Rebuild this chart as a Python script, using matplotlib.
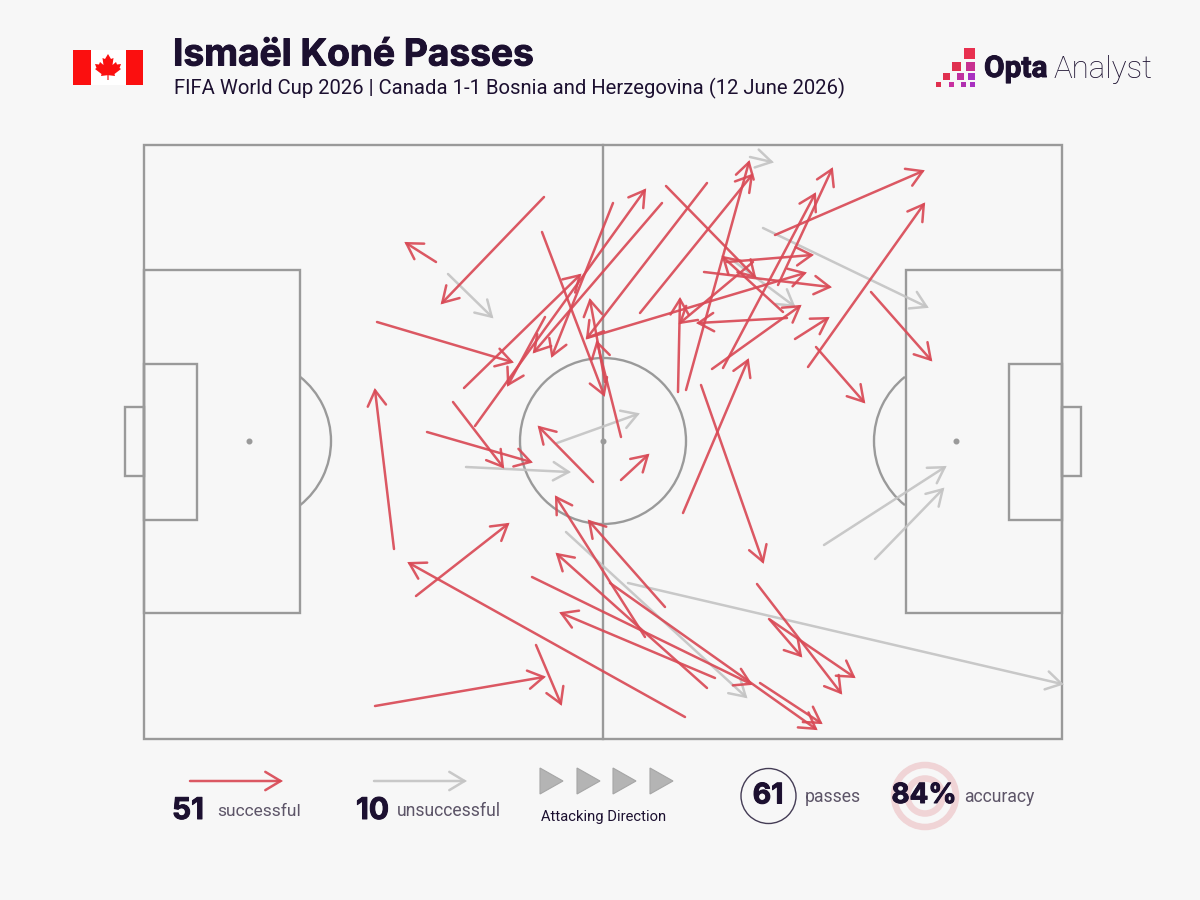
import matplotlib
matplotlib.use('Agg')
import matplotlib.pyplot as plt
import matplotlib.patheffects as pe
import numpy as np
from matplotlib.patches import Arc, Circle, FancyArrowPatch, Polygon, Rectangle

# passes: x start, y start, x end, y end
successful_passes = [
    (544, 197, 442, 303), (436, 262, 406, 243), (377, 322, 512, 362),
    (464, 388, 580, 275), (475, 426, 645, 190), (545, 317, 508, 385),
    (613, 203, 552, 356), (662, 203, 534, 352), (707, 183, 587, 338),
    (542, 232, 604, 395), (605, 382, 590, 300), (621, 437, 597, 342),
    (587, 338, 805, 273), (686, 390, 749, 162), (640, 313, 752, 175),
    (666, 186, 755, 277), (783, 312, 723, 257), (727, 262, 812, 255),
    (704, 272, 830, 287), (787, 318, 698, 323), (712, 369, 800, 306),
    (795, 339, 828, 318), (808, 367, 924, 204), (816, 347, 864, 402),
    (871, 292, 931, 360), (775, 235, 923, 171), (723, 368, 815, 194),
    (778, 285, 832, 169), (678, 392, 680, 299), (753, 262, 680, 323),
    (683, 513, 748, 360), (701, 385, 763, 562), (593, 482, 539, 427),
    (453, 402, 503, 467), (427, 432, 531, 462), (621, 480, 648, 455),
    (394, 549, 375, 390), (416, 596, 508, 524), (685, 717, 409, 563),
    (375, 706, 544, 677), (536, 645, 561, 704), (707, 688, 557, 554),
    (645, 637, 556, 497), (665, 607, 589, 521), (532, 577, 751, 684),
    (760, 683, 821, 723), (610, 583, 816, 729), (715, 678, 561, 613),
    (757, 584, 841, 693), (769, 619, 854, 677), (770, 620, 801, 656),
]
failed_passes = [
    (448, 274, 492, 317), (557, 443, 638, 414), (466, 467, 569, 472),
    (763, 228, 927, 307), (750, 157, 772, 162), (735, 262, 794, 306),
    (566, 532, 746, 697), (628, 583, 1062, 684), (824, 545, 945, 467),
    (875, 559, 943, 489),
]

title = 'Ismaël Koné Passes'
subtitle = 'FIFA World Cup 2026 | Canada 1-1 Bosnia and Herzegovina (12 June 2026)'
n_successful = '51'
n_unsuccessful = '10'
n_passes = '61'
accuracy = '84%'

BG = '#f7f7f7'
DARK = '#1c1030'
MUTED = '#5d5568'
RED = '#d94a56'
GREY = '#c4c4c4'
LINE = '#9a9a9a'
FONT = 'Roboto'
HEAVY = 'Inter'

fig = plt.figure(figsize=(12, 9), dpi=100, facecolor=BG)
ax = fig.add_axes([0, 0, 1, 1])
ax.set_xlim(0, 1200)
ax.set_ylim(900, 0)
ax.axis('off')

# thickens the bold text a little, the original font is heavier than Inter bold
thick = [pe.withStroke(linewidth=0.7, foreground=DARK)]


def box(x0, y0, x1, y1):
    ax.add_patch(Rectangle((x0, y0), x1 - x0, y1 - y0, fill=False, ec=LINE, lw=1.7, zorder=1))


def arrow(p, color, z=3):
    # the open head stops a bit short of its tip, so push the end out by 2 units
    start = np.array(p[:2], dtype=float)
    end = np.array(p[2:], dtype=float)
    end = end + 2 * (end - start) / np.linalg.norm(end - start)
    ax.add_patch(FancyArrowPatch(start, end, shrinkA=0, shrinkB=0,
                                 arrowstyle='->,head_length=1.0,head_width=0.6',
                                 mutation_scale=11, color=color, lw=1.8, alpha=0.92,
                                 capstyle='round', joinstyle='miter', zorder=z))


# pitch
box(144, 145, 1062, 739)
ax.plot([603, 603], [145, 739], color=LINE, lw=1.7, zorder=1)
box(144, 270, 300, 613)
box(906, 270, 1062, 613)
box(144, 364, 197, 520)
box(1009, 364, 1062, 520)
box(125, 407, 144, 476)
box(1062, 407, 1081, 476)
ax.add_patch(Circle((603, 441), 83, fill=False, ec=LINE, lw=1.7, zorder=1))
ax.add_patch(Arc((249, 441), 164, 164, theta1=-51.5, theta2=51.5, ec=LINE, lw=1.7, zorder=1))
ax.add_patch(Arc((956, 441), 164, 164, theta1=128.5, theta2=231.5, ec=LINE, lw=1.7, zorder=1))
ax.scatter([249, 603, 956], [441, 441, 441], s=11, color=LINE, zorder=1)

for p in failed_passes:
    arrow(p, GREY, 2)
for p in successful_passes:
    arrow(p, RED, 3)

# header
ax.text(173, 55.5, title, fontsize=26.7, fontweight='bold', family=HEAVY, color=DARK, va='center', path_effects=thick)
ax.text(174, 88, subtitle, fontsize=14.6, family=FONT, color=DARK, va='center')

# flag
ax.add_patch(Rectangle((73, 50), 70, 35, fc='white', ec='none'))
ax.add_patch(Rectangle((73, 50), 17.5, 35, fc='#fb0f0f', ec='none'))
ax.add_patch(Rectangle((125.5, 50), 17.5, 35, fc='#fb0f0f', ec='none'))
leaf = [(108, 54), (111, 59), (113.5, 58), (112.5, 65), (116, 62), (117, 64.5), (121, 64),
        (119.5, 68), (121, 69), (114.5, 74), (115, 76), (108.6, 75.2), (108.6, 80), (107.4, 80),
        (107.4, 75.2), (101, 76), (101.5, 74), (95, 69), (96.5, 68), (95, 64), (99, 64.5),
        (100, 62), (103.5, 65), (102.5, 58), (105, 59)]
ax.add_patch(Polygon(leaf, closed=True, fc='#fb0f0f', ec='none'))

# logo
logo_squares = [(964, 48, 11, '#e8304f'), (952, 62, 9, '#e0304f'), (966, 62, 9, '#c83090'),
                (943, 73, 7, '#e0304f'), (957, 73, 6.5, '#c030a0'), (968, 73, 7, '#a830c0'),
                (936, 82, 5, '#e0304f'), (949, 82, 5, '#c830a0'), (961, 82, 4.5, '#b030b0'),
                (970, 82, 5, '#a830c0')]
for x, y, s, c in logo_squares:
    ax.add_patch(Rectangle((x, y), s, s, fc=c, ec='none'))
ax.text(984, 69, 'Opta', fontsize=21.5, fontweight='bold', family=FONT, color=DARK, va='center', path_effects=thick)
ax.text(1054, 69, 'Analyst', fontsize=22.5, family=FONT, fontweight='light', color=DARK, va='center')

# legend
arrow((190, 781, 281, 781), RED)
arrow((374, 781, 465, 781), GREY)
ax.text(172, 811, n_successful, fontsize=21.5, fontweight='bold', family=HEAVY, color=DARK, va='center', path_effects=thick)
ax.text(217, 811, 'successful', fontsize=12.5, family=FONT, color=MUTED, va='center')
ax.text(356, 811, n_unsuccessful, fontsize=21.5, fontweight='bold', family=HEAVY, color=DARK, va='center', path_effects=thick)
ax.text(397, 811, 'unsuccessful', fontsize=12.7, family=FONT, color=MUTED, va='center')
for x in [540, 577, 613, 650]:
    ax.add_patch(Polygon([(x, 768), (x + 23, 781), (x, 794)], closed=True, fc='#b4b4b4', ec='#a6a6a6', lw=0.8))
ax.text(603.5, 817, 'Attacking Direction', fontsize=10.6, family=FONT, color=DARK, ha='center', va='center')

ax.add_patch(Circle((768.5, 796), 27.5, fill=False, ec='#443c55', lw=1))
ax.text(768, 796, n_passes, fontsize=20.5, fontweight='bold', family=HEAVY, color=DARK, ha='center', va='center', path_effects=thick)
ax.text(805, 797, 'passes', fontsize=12.7, family=FONT, color=MUTED, va='center')

ax.add_patch(Circle((925, 796), 31, fill=False, ec='#f0d4d6', lw=4.7))
ax.add_patch(Circle((925, 796), 17.5, fill=False, ec='#f0d4d6', lw=4.7))
ax.text(924, 796, accuracy, fontsize=20, fontweight='bold', family=HEAVY, color=DARK, ha='center', va='center', path_effects=thick)
ax.text(964, 797, 'accuracy', fontsize=12.7, family=FONT, color=MUTED, va='center')

fig.savefig('out.png', dpi=100, facecolor=BG)
